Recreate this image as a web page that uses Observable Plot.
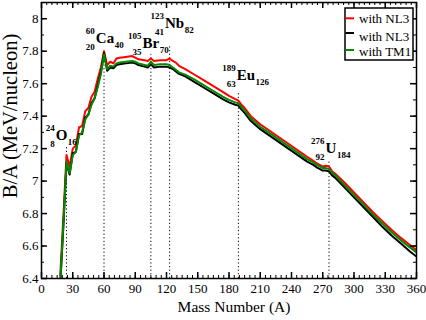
<!DOCTYPE html>
<html><head><meta charset="utf-8">
<script src="https://cdn.jsdelivr.net/npm/d3@7"></script>
<script src="https://cdn.jsdelivr.net/npm/@observablehq/plot@0.6"></script>
<style>html,body{margin:0;padding:0;background:#fff}</style>
</head><body><div id="chart"></div>
<script>
// ---- data ----
const massA = [18,21,24,27,30,33,36,39,42,45,48,51,54,57,60,63,66,69,72,75,
  81,87,90,93,99,102,105,108,114,120,123,126,129,132,138,147,156,165,174,180,
  186,189,192,195,201,210,219,228,237,246,255,261,264,267,270,273,276,279,282,291,
  300,309,318,327,336,345,354,360];
const baRed = [6.42,6.78,7.16,7.09,7.20,7.22,7.33,7.34,7.43,7.45,7.52,7.55,7.63,7.70,7.80,7.715,7.735,7.725,7.755,7.76,
  7.765,7.77,7.76,7.75,7.745,7.74,7.755,7.74,7.745,7.745,7.755,7.74,7.73,7.71,7.69,7.655,7.62,7.585,7.55,7.525,
  7.505,7.495,7.47,7.45,7.40,7.35,7.31,7.27,7.23,7.19,7.15,7.125,7.11,7.10,7.09,7.095,7.09,7.06,7.045,6.99,
  6.93,6.87,6.81,6.755,6.70,6.65,6.605,6.575];
const baBlack = [6.36,6.72,7.11,7.04,7.17,7.18,7.29,7.29,7.39,7.41,7.48,7.51,7.59,7.67,7.79,7.68,7.70,7.695,7.715,7.72,
  7.725,7.73,7.725,7.715,7.705,7.70,7.72,7.70,7.705,7.705,7.70,7.69,7.675,7.66,7.645,7.61,7.575,7.54,7.505,7.485,
  7.47,7.465,7.44,7.42,7.37,7.32,7.28,7.24,7.20,7.16,7.12,7.10,7.085,7.075,7.065,7.065,7.06,7.035,7.02,6.96,
  6.90,6.84,6.78,6.72,6.665,6.615,6.565,6.535];
const baGreen = [6.37,6.74,7.12,7.05,7.16,7.18,7.28,7.30,7.38,7.41,7.47,7.51,7.58,7.66,7.78,7.69,7.71,7.705,7.725,7.73,
  7.735,7.74,7.735,7.725,7.715,7.71,7.735,7.715,7.72,7.72,7.715,7.70,7.685,7.67,7.655,7.625,7.59,7.555,7.52,7.50,
  7.485,7.48,7.455,7.435,7.385,7.335,7.295,7.255,7.215,7.175,7.135,7.115,7.10,7.09,7.08,7.08,7.075,7.05,7.035,6.975,
  6.915,6.855,6.795,6.74,6.685,6.635,6.59,6.56];
const seriesNames = ["with NL3", "with NL3", "with TM1"];
const seriesColors = ["#ff0000", "#000000", "#008a00"];

const nucSym = ["O","Ca","Br","Nb","Eu","U"];
const nucA = [24,60,105,123,189,276];
const nucZ = [8,20,35,41,63,92];
const nucN = [16,40,70,82,126,184];
const dropTop = [7.21,7.80,7.78,7.83,7.55,7.13];

const xTicks = [0,30,60,90,120,150,180,210,240,270,300,330,360];
const yTicks = [6.4,6.6,6.8,7.0,7.2,7.4,7.6,7.8,8.0];
const xTitle = "Mass Number (A)";
const yTitle = "B/A (MeV/nucleon)";

// ---- layout (style) ----
const W = 426, H = 320;
const mL = 41, mR = 10, mT = 2, mB = 42;
const plotW = W - mL - mR, plotH = H - mT - mB;
const labelDx = [-5, 1, 0, 5, 7.5, 2];
const labelY = [7.282, 7.879, 7.848, 7.972, 7.651, 7.202];
const serif = "Liberation Serif, Times New Roman, serif";

const ctx = document.createElement("canvas").getContext("2d");
function tw(s, font) { ctx.font = font; return ctx.measureText(s).width; }

const rows = massA.map((a, i) => ({A: a, red: baRed[i], black: baBlack[i], green: baGreen[i]}));
const nuclei = nucSym.map((s, i) => ({sym: s, A: nucA[i], Z: nucZ[i], N: nucN[i], top: dropTop[i], ly: labelY[i]}));

const minorX = d3.range(0, 361, 5);
const minorY = d3.range(64, 82, 1).map(d => d / 10);

const tickMarks = [
  Plot.ruleX(minorX, {insetTop: plotH - 3, stroke: "black", strokeWidth: 1}),
  Plot.ruleX(minorX, {insetBottom: plotH - 3, stroke: "black", strokeWidth: 1}),
  Plot.ruleX(xTicks, {insetTop: plotH - 6, stroke: "black", strokeWidth: 1.5}),
  Plot.ruleX(xTicks, {insetBottom: plotH - 6, stroke: "black", strokeWidth: 1.5}),
  Plot.ruleY(minorY, {insetRight: plotW - 3, stroke: "black", strokeWidth: 1}),
  Plot.ruleY(minorY, {insetLeft: plotW - 3, stroke: "black", strokeWidth: 1}),
  Plot.ruleY(yTicks, {insetRight: plotW - 6, stroke: "black", strokeWidth: 1.5}),
  Plot.ruleY(yTicks, {insetLeft: plotW - 6, stroke: "black", strokeWidth: 1.5})
];

const labelMarks = nuclei.flatMap((n, i) => {
  const w = tw(n.sym, `bold 15px ${serif}`);
  const base = {x: "A", y: "ly", fontWeight: "bold", fill: "black", fontFamily: serif};
  return [
    Plot.text([n], {...base, text: "sym", fontSize: 15, dx: labelDx[i]}),
    Plot.text([n], {...base, text: d => String(d.A), fontSize: 9, textAnchor: "end", dx: labelDx[i] - w / 2 - 1, dy: -7}),
    Plot.text([n], {...base, text: d => String(d.Z), fontSize: 9, textAnchor: "end", dx: labelDx[i] - w / 2 - 1, dy: 9}),
    Plot.text([n], {...base, text: d => String(d.N), fontSize: 9, textAnchor: "start", dx: labelDx[i] + w / 2 + 0.5, dy: 7})
  ];
});

// y title sized so that it spans ~166px as in the reference
const yTitleSize = Math.min(20.5, 16 * 166 / tw(yTitle, `16px ${serif}`));

const chart = Plot.plot({
  width: W, height: H,
  marginLeft: mL, marginRight: mR, marginTop: mT, marginBottom: mB,
  style: {fontFamily: serif, fontSize: "13px", background: "white", color: "black"},
  x: {domain: [0, 360], label: null},
  y: {domain: [6.4, 8.1], label: null},
  marks: [
    Plot.ruleX(nuclei, {x: "A", y1: 6.4, y2: "top", stroke: "black", strokeWidth: 1, strokeDasharray: "1.2,2.4"}),
    Plot.line(rows, {x: "A", y: "red", stroke: seriesColors[0], strokeWidth: 2, clip: true}),
    Plot.line(rows, {x: "A", y: "black", stroke: seriesColors[1], strokeWidth: 2, clip: true}),
    Plot.line(rows, {x: "A", y: "green", stroke: seriesColors[2], strokeWidth: 2, clip: true}),
    ...labelMarks,
    ...tickMarks,
    Plot.axisX(xTicks, {tickSize: 0, tickPadding: 5, fontSize: 13, label: null}),
    Plot.axisY(yTicks, {tickSize: 0, tickPadding: 3, fontSize: 13, label: null, tickFormat: d => String(+d.toFixed(1))}),
    Plot.frame({stroke: "black", strokeWidth: 1.5}),
    Plot.text([xTitle], {frameAnchor: "bottom", dx: 5, dy: 33, fontSize: 15.5, fontFamily: serif})
  ]
});

document.getElementById("chart").appendChild(chart);
const svg = d3.select(chart);

// y-axis title
svg.append("text").attr("transform", "translate(10,116) rotate(-90)")
  .attr("text-anchor", "middle").attr("dy", "0.35em")
  .attr("font-family", serif).attr("font-size", yTitleSize).attr("fill", "black").text(yTitle);

// legend inside the plot frame
const lg = svg.append("g").attr("font-family", serif).attr("font-size", 13).attr("text-anchor", "start");
lg.append("rect").attr("x", 345).attr("y", 8).attr("width", 68).attr("height", 52)
  .attr("fill", "white").attr("stroke", "black").attr("stroke-width", 1.5);
const lineYs = [18.3, 33, 50];
const textYs = [18.5, 36, 51.5];
seriesNames.forEach((name, i) => {
  lg.append("line").attr("x1", 345.5).attr("x2", 354).attr("y1", lineYs[i]).attr("y2", lineYs[i])
    .attr("stroke", seriesColors[i]).attr("stroke-width", 2);
  lg.append("text").attr("x", 359).attr("y", textYs[i]).attr("dy", "0.35em")
    .attr("text-anchor", "start").attr("fill", "black").text(name);
});
</script>
</body></html>
